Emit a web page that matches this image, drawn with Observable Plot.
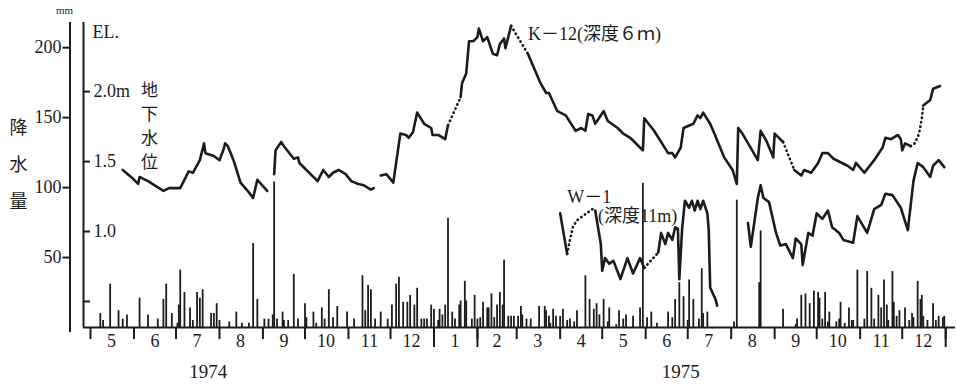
<!DOCTYPE html>
<html><head><meta charset="utf-8">
<script src="https://cdn.jsdelivr.net/npm/d3@7"></script>
<script src="https://cdn.jsdelivr.net/npm/@observablehq/plot@0.6"></script>
<style>
html,body{margin:0;padding:0;background:#fff;}
#chart svg{display:block;}
</style>
</head><body><div id="chart"></div>
<script>
// ---- Daily precipitation (mm) ----
const rainDates = [
"1974-05-08","1974-05-10","1974-05-15","1974-05-21","1974-05-24","1974-05-27","1974-06-05","1974-06-11","1974-06-18","1974-06-22",
"1974-06-24","1974-06-28","1974-07-02","1974-07-03","1974-07-04","1974-07-07","1974-07-11","1974-07-13","1974-07-16","1974-07-18",
"1974-07-20","1974-07-26","1974-07-28","1974-07-30","1974-08-01","1974-08-08","1974-08-13","1974-08-17","1974-08-22","1974-08-25",
"1974-08-28","1974-09-02","1974-09-05","1974-09-08","1974-09-09","1974-09-11","1974-09-15","1974-09-16","1974-09-19","1974-09-23",
"1974-09-26","1974-10-01","1974-10-02","1974-10-07","1974-10-09","1974-10-13","1974-10-15","1974-10-18","1974-10-21","1974-10-24",
"1974-10-31","1974-11-05","1974-11-11","1974-11-13","1974-11-15","1974-11-17","1974-11-20","1974-11-24","1974-11-29","1974-12-02",
"1974-12-05","1974-12-07","1974-12-10","1974-12-13","1974-12-15","1974-12-18","1974-12-20","1974-12-23","1974-12-25","1974-12-27",
"1974-12-30","1975-01-01","1975-01-04","1975-01-05","1975-01-07","1975-01-09","1975-01-11","1975-01-14","1975-01-16","1975-01-19",
"1975-01-20","1975-01-23","1975-01-24","1975-01-28","1975-01-30","1975-02-01","1975-02-03","1975-02-05","1975-02-08","1975-02-09",
"1975-02-11","1975-02-13","1975-02-15","1975-02-17","1975-02-19","1975-02-20","1975-02-23","1975-02-25","1975-02-27","1975-03-02",
"1975-03-04","1975-03-05","1975-03-08","1975-03-11","1975-03-17","1975-03-21","1975-03-22","1975-03-24","1975-03-25","1975-03-27",
"1975-03-29","1975-04-01","1975-04-03","1975-04-06","1975-04-08","1975-04-11","1975-04-13","1975-04-19","1975-04-22","1975-04-25",
"1975-04-27","1975-04-29","1975-05-02","1975-05-05","1975-05-06","1975-05-11","1975-05-13","1975-05-16","1975-05-18","1975-05-23",
"1975-05-28","1975-05-30","1975-06-02","1975-06-05","1975-06-09","1975-06-17","1975-06-20","1975-06-22","1975-06-25","1975-06-28",
"1975-07-01","1975-07-02","1975-07-05","1975-07-09","1975-07-11","1975-07-12","1975-07-15","1975-08-03","1975-08-05","1975-08-21",
"1975-08-22","1975-09-07","1975-09-16","1975-09-17","1975-09-20","1975-09-23","1975-09-26","1975-09-29","1975-10-02","1975-10-03",
"1975-10-05","1975-10-07","1975-10-09","1975-10-10","1975-10-15","1975-10-17","1975-10-18","1975-10-21","1975-10-24","1975-10-26",
"1975-10-27","1975-10-30","1975-11-04","1975-11-06","1975-11-09","1975-11-11","1975-11-14","1975-11-16","1975-11-18","1975-11-20",
"1975-11-21","1975-11-24","1975-11-25","1975-11-27","1975-11-29","1975-12-03","1975-12-06","1975-12-08","1975-12-09","1975-12-12",
"1975-12-14","1975-12-15","1975-12-16","1975-12-19","1975-12-23","1975-12-25","1975-12-27","1975-12-30","1975-12-31"];
const rainMm = [
10,5,31,12,6,9,21,9,6,20,
31,10,3,16,41,25,14,5,25,21,
27,10,10,17,5,4,11,3,3,60,
20,6,6,9,104,6,11,5,5,38,
6,17,7,11,3,14,6,27,7,15,
11,6,37,12,30,27,6,11,6,16,
31,36,18,18,23,16,28,6,6,6,
16,13,5,13,9,16,78,11,6,16,
19,33,19,6,23,6,7,18,14,14,
24,7,16,25,16,48,8,8,8,8,
15,9,6,6,15,15,12,8,3,13,
8,8,13,5,6,4,12,37,20,13,
17,9,20,4,14,2,12,6,9,8,
14,103,7,11,3,11,7,20,32,22,
5,34,20,6,42,10,11,4,91,32,
69,13,2,6,23,24,17,26,25,21,
6,25,4,11,4,6,18,3,14,5,
5,41,6,40,28,6,23,14,34,16,
5,40,18,8,12,14,5,10,7,33,
20,23,8,5,17,5,8,7,8];

// ---- Groundwater level EL. (m): K-12 (depth 6 m) ----
const k12Solid = [
 [["1974-05-24",1.44],["1974-05-31",1.38],["1974-06-04",1.34],["1974-06-05",1.39],["1974-06-11",1.36],["1974-06-22",1.29],
  ["1974-06-26",1.31],["1974-07-04",1.31],["1974-07-08",1.39],["1974-07-10",1.43],["1974-07-13",1.42],["1974-07-18",1.51],
  ["1974-07-21",1.63],["1974-07-22",1.56],["1974-07-28",1.54],["1974-08-01",1.51],["1974-08-04",1.59],["1974-08-05",1.63],
  ["1974-08-07",1.61],["1974-08-11",1.51],["1974-08-16",1.35],["1974-08-22",1.28],["1974-08-25",1.24],["1974-08-28",1.37],
  ["1974-09-04",1.29]],
 [["1974-09-09",1.41],["1974-09-10",1.58],["1974-09-14",1.64],["1974-09-16",1.61],["1974-09-23",1.52],["1974-09-26",1.53],
  ["1974-09-27",1.49],["1974-10-10",1.36],["1974-10-14",1.44],["1974-10-18",1.39],["1974-10-21",1.42],["1974-10-25",1.44],
  ["1974-10-30",1.41],["1974-11-03",1.36],["1974-11-08",1.34],["1974-11-12",1.33],["1974-11-17",1.30],["1974-11-19",1.31]],
 [["1974-11-24",1.40],["1974-11-28",1.41],["1974-12-03",1.35],["1974-12-08",1.70],["1974-12-12",1.69],["1974-12-14",1.67],
  ["1974-12-17",1.71],["1974-12-20",1.85],["1974-12-25",1.77],["1974-12-30",1.74],["1974-12-31",1.69],["1975-01-04",1.69],
  ["1975-01-09",1.66],["1975-01-11",1.76]],
 [["1975-01-20",1.96],["1975-01-21",2.06],["1975-01-24",2.13],["1975-01-26",2.36],["1975-01-29",2.36],["1975-02-01",2.39],
  ["1975-02-02",2.45],["1975-02-05",2.36],["1975-02-08",2.39],["1975-02-12",2.27],["1975-02-15",2.26],["1975-02-17",2.34],
  ["1975-02-20",2.38],["1975-02-21",2.31],["1975-02-23",2.39],["1975-02-25",2.47]],
 [["1975-03-09",2.27],["1975-03-18",2.06],["1975-03-22",1.99],["1975-03-24",1.99],["1975-03-30",1.86],["1975-04-05",1.83],
  ["1975-04-12",1.72],["1975-04-16",1.74],["1975-04-19",1.72],["1975-04-21",1.84],["1975-04-24",1.83],["1975-04-26",1.77],
  ["1975-05-02",1.86],["1975-05-05",1.79],["1975-05-12",1.74],["1975-05-16",1.70],["1975-05-21",1.67],["1975-05-30",1.58],
  ["1975-05-31",1.81],["1975-06-07",1.72],["1975-06-17",1.56],["1975-06-20",1.56],["1975-06-22",1.53],["1975-06-26",1.60],
  ["1975-06-28",1.74],["1975-07-05",1.77],["1975-07-08",1.83],["1975-07-10",1.81],["1975-07-12",1.85],["1975-07-17",1.77],
  ["1975-07-20",1.70],["1975-07-27",1.53],["1975-08-02",1.44],["1975-08-05",1.34],["1975-08-06",1.74],["1975-08-09",1.70],
  ["1975-08-20",1.51],["1975-08-22",1.72],["1975-08-26",1.65],["1975-08-31",1.53],["1975-09-01",1.70],["1975-09-07",1.64]],
 [["1975-09-15",1.44],["1975-09-20",1.40],["1975-09-22",1.44],["1975-09-27",1.42],["1975-10-02",1.49],["1975-10-05",1.56],
  ["1975-10-09",1.56],["1975-10-13",1.52],["1975-10-23",1.47],["1975-10-27",1.44],["1975-10-29",1.49],["1975-11-04",1.42],
  ["1975-11-11",1.51],["1975-11-17",1.60],["1975-11-19",1.67],["1975-11-23",1.66],["1975-11-28",1.69],["1975-11-30",1.66],
  ["1975-12-01",1.58],["1975-12-03",1.63],["1975-12-07",1.61]],
 [["1975-12-16",1.90],["1975-12-21",1.94],["1975-12-23",2.02],["1975-12-28",2.04]]
];
const k12Dotted = [
 [["1975-01-11",1.76],["1975-01-20",1.96]],
 [["1975-02-25",2.47],["1975-03-09",2.27]],
 [["1975-09-07",1.64],["1975-09-15",1.44]],
 [["1975-12-07",1.61],["1975-12-10",1.63],["1975-12-13",1.70],["1975-12-15",1.81],["1975-12-16",1.90]]
];

// ---- Groundwater level EL. (m): W-1 (depth 11 m) ----
const w1Solid = [
 [["1975-04-01",1.13],["1975-04-06",0.84]],
 [["1975-04-26",1.15],["1975-04-30",0.91],["1975-05-01",0.72],["1975-05-03",0.81],["1975-05-06",0.77],["1975-05-09",0.79],
  ["1975-05-14",0.66],["1975-05-19",0.81],["1975-05-23",0.70],["1975-05-28",0.81],["1975-05-31",0.74]],
 [["1975-06-10",0.85],["1975-06-12",0.99],["1975-06-15",0.91],["1975-06-17",0.99],["1975-06-20",0.94],["1975-06-22",1.03],
  ["1975-06-24",1.02],["1975-06-25",0.66],["1975-06-27",1.02],["1975-06-29",1.22],["1975-07-02",1.17],["1975-07-04",1.22],
  ["1975-07-06",1.15],["1975-07-08",1.22],["1975-07-10",1.16],["1975-07-12",1.22],["1975-07-15",1.13],["1975-07-16",1.01],
  ["1975-07-17",0.60],["1975-07-21",0.51],["1975-07-22",0.47]],
 [["1975-08-13",1.06],["1975-08-15",0.89],["1975-08-18",1.10],["1975-08-20",1.24],["1975-08-22",1.33],["1975-08-24",1.24],
  ["1975-08-28",1.21],["1975-09-02",0.99],["1975-09-05",0.90],["1975-09-09",0.91],["1975-09-14",0.81],["1975-09-16",0.95],
  ["1975-09-20",0.91],["1975-09-21",0.76],["1975-09-25",0.99],["1975-09-28",0.97],["1975-10-01",1.13],["1975-10-05",1.09],
  ["1975-10-09",1.15],["1975-10-12",1.03],["1975-10-17",0.99],["1975-10-20",0.94],["1975-10-27",0.92],["1975-10-30",1.11],
  ["1975-11-06",0.99],["1975-11-11",1.16],["1975-11-16",1.19],["1975-11-19",1.27],["1975-11-24",1.26],["1975-11-30",1.17],
  ["1975-12-05",1.01],["1975-12-09",1.36],["1975-12-12",1.49],["1975-12-16",1.46],["1975-12-21",1.39],["1975-12-23",1.47],
  ["1975-12-27",1.51],["1975-12-31",1.46]]
];
const w1Dotted = [
 [["1975-04-06",0.84],["1975-04-08",0.94],["1975-04-10",1.03],["1975-04-13",1.08],["1975-04-17",1.11],["1975-04-24",1.16],["1975-04-26",1.15]],
 [["1975-05-31",0.74],["1975-06-10",0.85]]
];

// ---- Axes / ticks / labels ----
const rainTicks = [50, 100, 150, 200];
const rainTickLabels = ["50", "100", "150", "200"];
const elTicks = [0.5, 1.0, 1.5, 2.0];
const elTickLabels = ["", "1.0", "1.5", "2.0m"];
const monthStarts = ["1974-05-01","1974-06-01","1974-07-01","1974-08-01","1974-09-01","1974-10-01","1974-11-01","1974-12-01",
  "1975-01-01","1975-02-01","1975-03-01","1975-04-01","1975-05-01","1975-06-01","1975-07-01","1975-08-01","1975-09-01",
  "1975-10-01","1975-11-01","1975-12-01","1976-01-01"];
const longTicks = ["1975-01-01","1975-02-01","1976-01-01"];
const monthMids = ["1974-05-16","1974-06-16","1974-07-16","1974-08-16","1974-09-16","1974-10-16","1974-11-16","1974-12-16",
  "1975-01-16","1975-02-15","1975-03-16","1975-04-16","1975-05-16","1975-06-16","1975-07-16","1975-08-16","1975-09-16",
  "1975-10-16","1975-11-16","1975-12-16"];
const monthLabels = ["5","6","7","8","9","10","11","12","1","2","3","4","5","6","7","8","9","10","11","12"];
const yearMids = ["1974-07-24","1975-06-26"];
const yearLabels = ["1974","1975"];

const parse = d3.utcParse("%Y-%m-%d");
const elToMm = el => 68.6 + (el - 1.0) * 100;   // EL. axis drawn on the mm scale (1 m = 100 mm, 1.0 m at 68.6 mm)
const ink = "#1c1c1c";
const serif = "\"Liberation Serif\", \"Times New Roman\", \"DejaVu Serif\", \"Noto Sans CJK JP\", serif";

const rain = rainDates.map((d, i) => ({date: parse(d), mm: rainMm[i]}));
const rows = segs => segs.flatMap((s, i) => s.map(([d, v]) => ({date: parse(d), mm: elToMm(v), seg: i})));
const xStart = parse("1974-04-26"), xEnd = parse("1976-01-08");
const tickEnd = d3.utcDay.offset(xStart, 5);
const rainTickRows = rainTicks.map((v, i) => ({v, a: xStart, b: tickEnd, t: rainTickLabels[i]}));
const elTickRows = elTicks.map((v, i) => ({v: elToMm(v), a: xStart, b: tickEnd, t: elTickLabels[i]}));

const chart = Plot.plot({
  width: 956, height: 385,
  marginLeft: 83, marginRight: 1, marginTop: 22, marginBottom: 58,
  x: {type: "utc", domain: [xStart, xEnd], axis: null},
  y: {domain: [0, 218], axis: null},
  style: {fontFamily: serif, fontSize: "18px", color: ink, background: "#fff"},
  marks: [
    Plot.ruleX(rain, {x: "date", y1: 0, y2: "mm", stroke: ink, strokeWidth: 1.8}),
    Plot.line(rows(k12Solid), {x: "date", y: "mm", z: "seg", stroke: ink, strokeWidth: 2.6, strokeLinejoin: "round"}),
    Plot.line(rows(k12Dotted), {x: "date", y: "mm", z: "seg", stroke: ink, strokeWidth: 2.6, strokeDasharray: "0.5,4", strokeLinecap: "round"}),
    Plot.line(rows(w1Solid), {x: "date", y: "mm", z: "seg", stroke: ink, strokeWidth: 2.6, strokeLinejoin: "round"}),
    Plot.line(rows(w1Dotted), {x: "date", y: "mm", z: "seg", stroke: ink, strokeWidth: 2.6, strokeDasharray: "0.5,4", strokeLinecap: "round"}),
    // x axis: month boundary ticks, month and year labels
    Plot.ruleX(monthStarts.map(parse), {y1: 0, y2: -8.6, stroke: ink, strokeWidth: 2}),
    Plot.ruleX(longTicks.map(parse), {y1: 0, y2: -14.3, stroke: ink, strokeWidth: 2}),
    Plot.text(monthMids.map((d, i) => ({date: parse(d), t: monthLabels[i]})), {x: "date", text: "t", frameAnchor: "bottom", dy: 14, lineAnchor: "middle", fontSize: 18, fontFamily: serif, fill: ink}),
    Plot.text(yearMids.map((d, i) => ({date: parse(d), t: yearLabels[i]})), {x: "date", text: "t", frameAnchor: "bottom", dy: 44, lineAnchor: "middle", fontSize: 19, fontFamily: serif, fill: ink}),
    // precipitation axis (outer line) labels and groundwater EL. axis (inner line) labels
    Plot.text(rainTickRows, {x: "a", y: "v", text: "t", dx: -22, textAnchor: "end", lineAnchor: "middle", fontSize: 18, fontFamily: serif, fill: ink}),
    Plot.text(elTickRows, {x: "a", y: "v", text: "t", dx: 10, textAnchor: "start", lineAnchor: "middle", fontSize: 18, fontFamily: serif, fill: ink}),
    Plot.text(["mm"], {frameAnchor: "top-left", dx: -19, dy: -12, textAnchor: "middle", lineAnchor: "middle", fontSize: 11, fontFamily: serif, fill: ink}),
    Plot.text(["EL."], {frameAnchor: "top-left", dx: 9, dy: 10, textAnchor: "start", lineAnchor: "middle", fontSize: 18, fontFamily: serif, fill: ink}),
    Plot.text(["地\n下\n水\n位"], {frameAnchor: "top-left", dx: 66, dy: 102, textAnchor: "middle", lineAnchor: "middle", lineHeight: 1.4, fontSize: 17, fontFamily: serif, fill: ink}),
    Plot.text(["降\n水\n量"], {frameAnchor: "top-left", dx: -65, dy: 137, textAnchor: "middle", lineAnchor: "middle", lineHeight: 2.05, fontSize: 18, fontFamily: serif, fill: ink}),
    Plot.text([{date: parse("1975-03-09"), mm: 209.3, t: "K－12(深度６ｍ)"},
               {date: parse("1975-04-06"), mm: 92.9, t: "W－1"},
               {date: parse("1975-04-28"), mm: 79.3, t: "(深度11m)"}],
      {x: "date", y: "mm", text: "t", textAnchor: "start", lineAnchor: "middle", fontSize: 18, fontFamily: serif, fill: ink}),
    // axis lines and y ticks drawn last
    Plot.ruleY([0], {stroke: ink, strokeWidth: 2}),
    Plot.ruleX([xStart], {y1: 0, y2: 218, stroke: ink, strokeWidth: 2}),
    Plot.ruleX([xStart], {y1: -3.5, y2: 218, dx: -13.5, stroke: ink, strokeWidth: 2}),
    Plot.ruleY(rainTickRows, {y: "v", x1: "a", x2: "b", dx: -20.5, stroke: ink, strokeWidth: 2}),
    Plot.ruleY(elTickRows, {y: "v", x1: "a", x2: "b", stroke: ink, strokeWidth: 2})
  ]
});
document.getElementById("chart").append(chart);
</script></body></html>
